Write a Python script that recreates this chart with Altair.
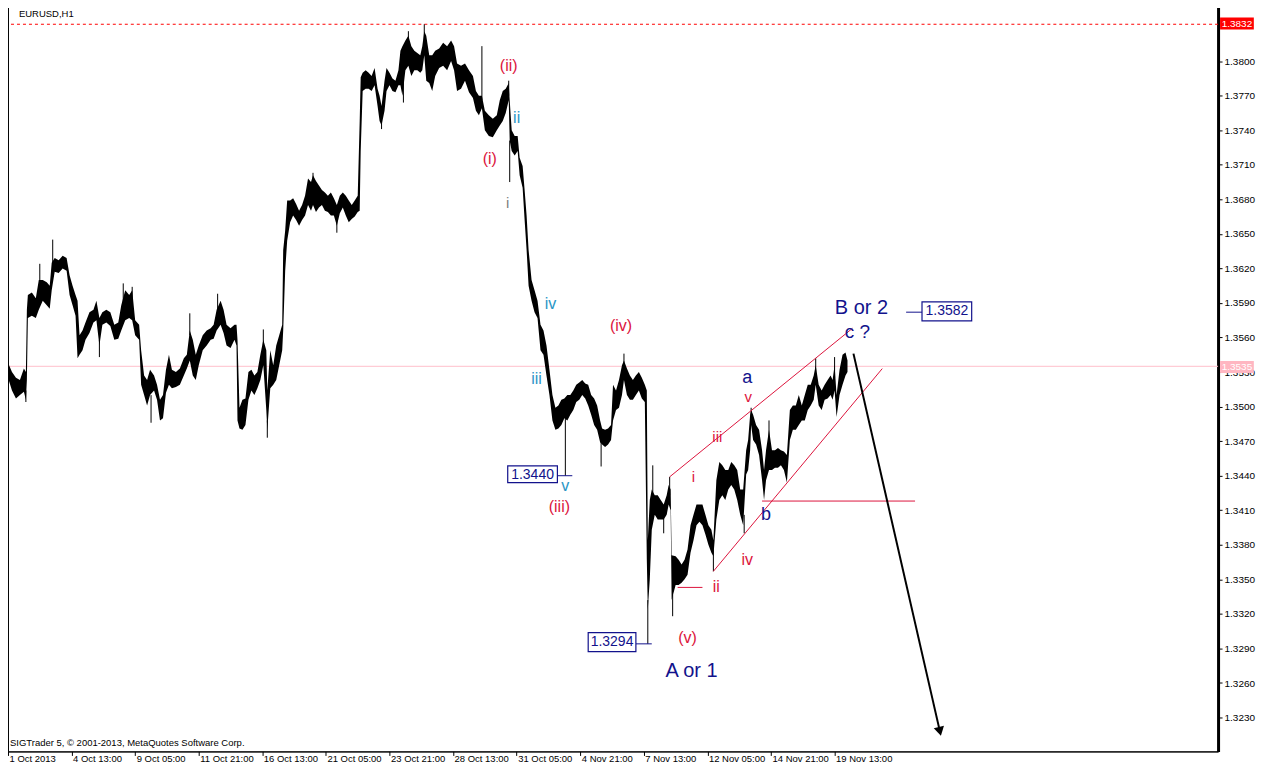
import altair as alt
import pandas as pd

# ---------------- price trace (EURUSD H1) ----------------
bar_index = [0, 4, 8, 12, 16, 18, 19, 20, 24, 28, 31, 35, 39, 42, 44, 47, 51, 55, 59, 62,
             65, 68, 70, 72, 75, 78, 82, 86, 89, 92, 95, 99, 103, 107, 111, 114, 118, 122, 125, 128,
             132, 134, 137, 140, 143, 147, 150, 153, 156, 159, 162, 165, 169, 173, 177, 180, 183, 186, 189, 192,
             196, 200, 204, 207, 210, 214, 217, 220, 224, 228, 230, 231, 233, 236, 239, 242, 245, 248, 251, 254,
             257, 260, 261, 264, 267, 270, 273, 276, 277, 279, 281, 284, 287, 290, 293, 296, 299, 302, 305, 307,
             310, 313, 316, 319, 322, 325, 328, 331, 334, 337, 340, 343, 346, 349, 352, 354, 355, 357, 360, 363,
             366, 369, 372, 374, 376, 379, 381, 384, 387, 390, 393, 395, 397, 400, 403, 406, 409, 412, 415, 417,
             419, 421, 424, 427, 430, 434, 438, 442, 446, 449, 452, 456, 460, 464, 468, 471, 474, 477, 480, 484,
             488, 492, 495, 498, 501, 504, 505, 507, 510, 513, 515, 518, 520, 522, 524, 527, 530, 533, 536, 539,
             542, 545, 548, 551, 554, 557, 560, 563, 566, 569, 572, 575, 578, 581, 584, 587, 590, 593, 596, 598,
             601, 604, 607, 609, 612, 615, 618, 620, 623, 626, 629, 632, 635, 638, 641, 643, 644, 646, 648, 651,
             654, 657, 660, 663, 665, 667, 668, 672, 675, 678, 681, 684, 687, 690, 693, 696, 699, 702, 705, 708,
             710, 713, 716, 719, 722, 725, 728, 731, 734, 737, 740, 743, 745, 747, 748, 750, 753, 756, 759, 761,
             763, 766, 769, 772, 775, 778, 781, 784, 787, 790, 793, 796, 799, 802, 805, 808, 811, 813, 816, 819,
             822, 825, 828, 830, 832, 834, 837, 840, 843, 845]
bar_high = [1.3538, 1.3530, 1.3525, 1.3523, 1.3533, 1.3530, 1.3584, 1.3597, 1.3599, 1.3594, 1.3610, 1.3610, 1.3608, 1.3605, 1.3625, 1.3629, 1.3627, 1.3631, 1.3629, 1.3614,
            1.3605, 1.3597, 1.3592, 1.3562, 1.3566, 1.3573, 1.3582, 1.3584, 1.3592, 1.3577, 1.3582, 1.3584, 1.3582, 1.3571, 1.3573, 1.3588, 1.3601, 1.3597, 1.3601, 1.3575,
            1.3571, 1.3549, 1.3527, 1.3523, 1.3532, 1.3527, 1.3519, 1.3506, 1.3510, 1.3532, 1.3545, 1.3532, 1.3530, 1.3533, 1.3542, 1.3545, 1.3566, 1.3558, 1.3545, 1.3553,
            1.3562, 1.3566, 1.3568, 1.3571, 1.3584, 1.3592, 1.3584, 1.3571, 1.3568, 1.3571, 1.3571, 1.3558, 1.3499, 1.3506, 1.3507, 1.3530, 1.3532, 1.3527, 1.3530, 1.3545,
            1.3558, 1.3549, 1.3514, 1.3549, 1.3536, 1.3553, 1.3562, 1.3571, 1.3636, 1.3653, 1.3679, 1.3679, 1.3681, 1.3676, 1.3670, 1.3675, 1.3683, 1.3698, 1.3695, 1.3701,
            1.3696, 1.3692, 1.3688, 1.3686, 1.3683, 1.3686, 1.3681, 1.3675, 1.3683, 1.3686, 1.3683, 1.3679, 1.3675, 1.3679, 1.3683, 1.3748, 1.3786, 1.3790, 1.3792, 1.3790,
            1.3787, 1.3794, 1.3776, 1.3770, 1.3761, 1.3783, 1.3794, 1.3790, 1.3785, 1.3783, 1.3792, 1.3809, 1.3813, 1.3818, 1.3822, 1.3813, 1.3809, 1.3807, 1.3805, 1.3813,
            1.3826, 1.3822, 1.3805, 1.3805, 1.3809, 1.3811, 1.3816, 1.3813, 1.3818, 1.3813, 1.3798, 1.3796, 1.3798, 1.3792, 1.3787, 1.3774, 1.3770, 1.3770, 1.3757, 1.3753,
            1.3750, 1.3753, 1.3766, 1.3774, 1.3776, 1.3781, 1.3766, 1.3740, 1.3735, 1.3735, 1.3716, 1.3709, 1.3688, 1.3666, 1.3636, 1.3610, 1.3601, 1.3592, 1.3571, 1.3566,
            1.3553, 1.3532, 1.3510, 1.3499, 1.3501, 1.3506, 1.3507, 1.3510, 1.3510, 1.3514, 1.3519, 1.3521, 1.3523, 1.3520, 1.3519, 1.3510, 1.3507, 1.3501, 1.3488, 1.3481,
            1.3480, 1.3481, 1.3484, 1.3519, 1.3514, 1.3523, 1.3536, 1.3540, 1.3533, 1.3527, 1.3523, 1.3527, 1.3530, 1.3525, 1.3519, 1.3514, 1.3384, 1.3419, 1.3428, 1.3423,
            1.3423, 1.3419, 1.3415, 1.3423, 1.3432, 1.3428, 1.3371, 1.3370, 1.3367, 1.3363, 1.3367, 1.3376, 1.3397, 1.3406, 1.3415, 1.3415, 1.3415, 1.3406, 1.3397, 1.3393,
            1.3384, 1.3436, 1.3452, 1.3449, 1.3445, 1.3445, 1.3452, 1.3449, 1.3445, 1.3428, 1.3428, 1.3462, 1.3471, 1.3493, 1.3497, 1.3493, 1.3484, 1.3480, 1.3462, 1.3445,
            1.3462, 1.3480, 1.3462, 1.3462, 1.3464, 1.3462, 1.3461, 1.3458, 1.3497, 1.3501, 1.3501, 1.3510, 1.3501, 1.3510, 1.3519, 1.3519, 1.3527, 1.3536, 1.3519, 1.3514,
            1.3519, 1.3523, 1.3527, 1.3523, 1.3536, 1.3510, 1.3532, 1.3545, 1.3547, 1.3540]
bar_low = [1.3525, 1.3514, 1.3507, 1.3510, 1.3513, 1.3506, 1.3523, 1.3577, 1.3579, 1.3577, 1.3584, 1.3592, 1.3588, 1.3585, 1.3601, 1.3617, 1.3616, 1.3620, 1.3618, 1.3597,
           1.3588, 1.3579, 1.3542, 1.3545, 1.3549, 1.3558, 1.3564, 1.3573, 1.3575, 1.3553, 1.3571, 1.3573, 1.3570, 1.3558, 1.3559, 1.3566, 1.3575, 1.3577, 1.3575, 1.3562,
           1.3558, 1.3519, 1.3510, 1.3501, 1.3510, 1.3514, 1.3506, 1.3488, 1.3490, 1.3512, 1.3519, 1.3516, 1.3517, 1.3519, 1.3527, 1.3533, 1.3540, 1.3527, 1.3523, 1.3536,
           1.3549, 1.3553, 1.3558, 1.3559, 1.3566, 1.3571, 1.3564, 1.3553, 1.3551, 1.3558, 1.3553, 1.3488, 1.3481, 1.3480, 1.3484, 1.3506, 1.3514, 1.3510, 1.3516, 1.3523,
           1.3536, 1.3497, 1.3480, 1.3516, 1.3519, 1.3523, 1.3536, 1.3549, 1.3566, 1.3618, 1.3644, 1.3660, 1.3666, 1.3662, 1.3657, 1.3662, 1.3666, 1.3675, 1.3670, 1.3675,
           1.3669, 1.3673, 1.3675, 1.3670, 1.3669, 1.3666, 1.3666, 1.3657, 1.3668, 1.3673, 1.3666, 1.3660, 1.3663, 1.3665, 1.3669, 1.3670, 1.3722, 1.3774, 1.3776, 1.3776,
           1.3774, 1.3779, 1.3761, 1.3748, 1.3744, 1.3757, 1.3774, 1.3779, 1.3774, 1.3773, 1.3779, 1.3779, 1.3770, 1.3792, 1.3796, 1.3787, 1.3792, 1.3792, 1.3790, 1.3792,
           1.3805, 1.3783, 1.3781, 1.3774, 1.3787, 1.3794, 1.3796, 1.3792, 1.3800, 1.3792, 1.3774, 1.3776, 1.3783, 1.3773, 1.3768, 1.3757, 1.3753, 1.3759, 1.3740, 1.3735,
           1.3734, 1.3740, 1.3744, 1.3748, 1.3755, 1.3766, 1.3731, 1.3722, 1.3718, 1.3722, 1.3701, 1.3690, 1.3662, 1.3636, 1.3605, 1.3592, 1.3582, 1.3577, 1.3549, 1.3545,
           1.3527, 1.3510, 1.3488, 1.3480, 1.3481, 1.3484, 1.3490, 1.3488, 1.3493, 1.3497, 1.3504, 1.3506, 1.3510, 1.3507, 1.3501, 1.3493, 1.3484, 1.3480, 1.3469, 1.3467,
           1.3465, 1.3467, 1.3471, 1.3488, 1.3497, 1.3499, 1.3510, 1.3523, 1.3510, 1.3506, 1.3506, 1.3510, 1.3514, 1.3507, 1.3504, 1.3367, 1.3324, 1.3350, 1.3393, 1.3406,
           1.3402, 1.3402, 1.3402, 1.3406, 1.3415, 1.3410, 1.3332, 1.3345, 1.3345, 1.3347, 1.3350, 1.3354, 1.3373, 1.3384, 1.3397, 1.3400, 1.3397, 1.3389, 1.3380, 1.3373,
           1.3370, 1.3402, 1.3419, 1.3423, 1.3419, 1.3428, 1.3432, 1.3428, 1.3419, 1.3406, 1.3397, 1.3441, 1.3445, 1.3462, 1.3484, 1.3471, 1.3467, 1.3458, 1.3436, 1.3419,
           1.3436, 1.3445, 1.3445, 1.3447, 1.3447, 1.3449, 1.3445, 1.3434, 1.3471, 1.3480, 1.3480, 1.3484, 1.3488, 1.3488, 1.3497, 1.3501, 1.3506, 1.3519, 1.3501, 1.3497,
           1.3506, 1.3507, 1.3510, 1.3506, 1.3514, 1.3491, 1.3510, 1.3519, 1.3527, 1.3530]

# single-bar wicks that stick out of the band
spike_index = [18, 32, 45, 92, 116, 125, 144, 183, 211, 257, 261, 307, 331, 376, 398, 403, 419,
               477, 504, 505, 561, 597, 620, 644, 649, 660, 666, 669, 710, 741, 748, 766, 813, 832]
spike_tip = [1.3504, 1.3624, 1.3645, 1.3543, 1.3607, 1.3604, 1.3486, 1.3581, 1.3598, 1.3567, 1.3473, 1.3703, 1.3651, 1.3741, 1.3764, 1.3826, 1.3832,
             1.3813, 1.3783, 1.3695, 1.3440, 1.3448, 1.3546, 1.3294, 1.3449, 1.3390, 1.3439, 1.3318, 1.3357, 1.3390, 1.3499, 1.3488, 1.3542, 1.3543]
spike_base = [1.3514, 1.3605, 1.3625, 1.3558, 1.3588, 1.3592, 1.3510, 1.3562, 1.3582, 1.3553, 1.3488, 1.3692, 1.3666, 1.3757, 1.3783, 1.3813, 1.3818,
              1.3766, 1.3770, 1.3731, 1.3490, 1.3471, 1.3532, 1.3332, 1.3423, 1.3403, 1.3423, 1.3337, 1.3376, 1.3406, 1.3488, 1.3471, 1.3525, 1.3525]

# ---------------- axes ----------------
x_tick_index = [0, 64, 128, 192, 256, 320, 384, 448, 512, 576, 640, 704, 768, 832]
x_tick_labels = ["1 Oct 2013", "4 Oct 13:00", "9 Oct 05:00", "11 Oct 21:00", "16 Oct 13:00",
                 "21 Oct 05:00", "23 Oct 21:00", "28 Oct 13:00", "31 Oct 05:00", "4 Nov 21:00",
                 "7 Nov 13:00", "12 Nov 05:00", "14 Nov 21:00", "19 Nov 13:00"]
y_tick_values = [1.3230, 1.3260, 1.3290, 1.3320, 1.3350, 1.3380, 1.3410, 1.3440, 1.3470, 1.3500,
                 1.3530, 1.3560, 1.3590, 1.3620, 1.3650, 1.3680, 1.3710, 1.3740, 1.3770, 1.3800]

# ---------------- reference levels ----------------
current_price = [1.3535]
high_price = [1.3832]

# ---------------- wave labels ----------------
wave_text = ["(ii)", "ii", "(i)", "i", "iv", "(iv)", "iii", "v", "(iii)", "i", "iii", "v",
             "a", "b", "iv", "ii", "(v)", "A or 1", "B or 2", "c ?"]
wave_index = [504, 512, 485, 503, 546, 617, 532, 561, 555, 690, 714, 745,
              744, 763, 744, 713, 684, 688, 859, 855]
wave_price = [1.3796, 1.3751, 1.3715, 1.3677, 1.3589, 1.3570, 1.3524, 1.3431, 1.3413, 1.3439, 1.3474, 1.3508,
              1.3525, 1.3406, 1.3367, 1.3343, 1.3299, 1.3270, 1.3586, 1.3565]
CRIMSON, TEAL, NAVY, GREY = "#dc143c", "#2a96c6", "#12128c", "#808080"
wave_color = [CRIMSON, TEAL, CRIMSON, GREY, TEAL, CRIMSON, TEAL, TEAL, CRIMSON, CRIMSON, CRIMSON, CRIMSON,
              NAVY, NAVY, CRIMSON, CRIMSON, CRIMSON, NAVY, NAVY, NAVY]
wave_size = [16, 16, 16, 15, 16, 16, 16, 16, 16, 15, 15, 15,
             18, 18, 16, 16, 16, 20, 20, 19]

# ---------------- line segments (channel, levels, arrow) ----------------
seg_x1 = [666, 710, 674, 759, 553, 632, 904, 851]
seg_y1 = [1.3439, 1.3357, 1.3343, 1.3418, 1.3440, 1.3294, 1.3582, 1.3546]
seg_x2 = [850, 880, 699, 913, 568, 648, 920, 938]
seg_y2 = [1.3568, 1.3533, 1.3343, 1.3418, 1.3440, 1.3294, 1.3582, 1.3218]
seg_color = [CRIMSON, CRIMSON, CRIMSON, CRIMSON, NAVY, NAVY, NAVY, "black"]
seg_width = [1, 1, 1, 1, 1, 1, 1, 2]

arrow_index = [938]
arrow_price = [1.3218]

# ---------------- boxed price labels ----------------
box_text = ["1.3440", "1.3294", "1.3582"]
box_x1 = [503, 584, 920]
box_x2 = [553, 632, 970]
box_lo = [1.3434, 1.32873, 1.35745]
box_hi = [1.34485, 1.33037, 1.3591]
box_tx = [528, 608, 945]
box_ty = [1.3441, 1.32955, 1.35828]

# ---------------- price tags on the price scale ----------------
tag_text = ["1.3832", "1.3535"]
tag_fill = ["#ff0000", "#ffb6c1"]
tag_x1 = [1220, 1220]
tag_x2 = [1254, 1254]
tag_lo = [1.38274, 1.35292]
tag_hi = [1.38378, 1.35396]
tag_tx = [1237, 1237]
tag_ty = [1.38326, 1.35344]

# ---------------- corner captions ----------------
caption_text = ["EURUSD,H1", "SIGTrader 5, \u00a9 2001-2013, MetaQuotes Software Corp."]
caption_x = [9, 0]
caption_y = [1.38413, 1.32075]

FONT = "Liberation Sans"
xs = alt.Scale(domain=[0, 1218], nice=False, zero=False)
ys = alt.Scale(domain=[1.32006, 1.38508], nice=False, zero=False)

label_expr = " : ".join(f"datum.value === {v} ? '{t}'" for v, t in zip(x_tick_index, x_tick_labels)) + " : ''"
x_axis = alt.Axis(values=x_tick_index, labelExpr=label_expr, labelAlign="left", labelOffset=1,
                  labelBaseline="top", tickSize=4, labelPadding=-2, labelFont=FONT, labelFontSize=9.5,
                  labelColor="black", tickColor="black", domainColor="black", grid=False, title=None,
                  labelOverlap=False, labelFlush=False, labelBound=False)
y_axis = alt.Axis(orient="right", values=y_tick_values, format=".4f", tickSize=4, labelPadding=2,
                  labelFont=FONT, labelFontSize=10, labelColor="black", tickColor="black",
                  domainColor="black", domainWidth=3, grid=False, title=None,
                  labelOverlap=False, labelFlush=False, labelBound=False)


def X(f):
    return alt.X(f, type="quantitative", scale=xs, axis=x_axis)


def Y(f):
    return alt.Y(f, type="quantitative", scale=ys, axis=y_axis)


bars = pd.DataFrame({"i": bar_index, "hi": bar_high, "lo": bar_low})
spikes = pd.DataFrame({"i": spike_index, "tip": spike_tip, "base": spike_base})
waves = pd.DataFrame({"i": wave_index, "p": wave_price, "t": wave_text, "c": wave_color, "s": wave_size})
segs = pd.DataFrame({"x1": seg_x1, "y1": seg_y1, "x2": seg_x2, "y2": seg_y2, "c": seg_color, "w": seg_width})
boxes = pd.DataFrame({"x1": box_x1, "x2": box_x2, "lo": box_lo, "hi": box_hi, "tx": box_tx, "ty": box_ty, "t": box_text})
tags = pd.DataFrame({"x1": tag_x1, "x2": tag_x2, "lo": tag_lo, "hi": tag_hi, "tx": tag_tx, "ty": tag_ty,
                     "t": tag_text, "f": tag_fill})
caps = pd.DataFrame({"i": caption_x, "p": caption_y, "t": caption_text})

cur_line = alt.Chart(pd.DataFrame({"p": current_price})).mark_rule(color="#ffc0cb", strokeWidth=1).encode(y=Y("p"))
high_line = alt.Chart(pd.DataFrame({"p": high_price})).mark_rule(color="#ff0000", strokeWidth=1, strokeDash=[3, 3]).encode(y=Y("p"))

band = alt.Chart(bars).mark_area(fill="black", interpolate="linear").encode(
    x=X("i"), y=Y("hi"), y2="lo")
wicks = alt.Chart(spikes).mark_rule(color="black", strokeWidth=1).encode(x=X("i"), y=Y("tip"), y2="base")

lines = alt.Chart(segs).mark_rule().encode(
    x=X("x1"), y=Y("y1"), x2="x2", y2="y2",
    color=alt.Color("c:N", scale=None), strokeWidth=alt.StrokeWidth("w:Q", scale=None))
head = alt.Chart(pd.DataFrame({"i": arrow_index, "p": arrow_price})).mark_point(
    shape="triangle-down", filled=True, color="black", size=110, angle=347, opacity=1).encode(x=X("i"), y=Y("p"))

box_rect = alt.Chart(boxes).mark_rect(fill="white", stroke=NAVY, strokeWidth=1.2).encode(
    x=X("x1"), x2="x2", y=Y("lo"), y2="hi")
box_txt = alt.Chart(boxes).mark_text(font=FONT, fontSize=14, color=NAVY).encode(x=X("tx"), y=Y("ty"), text="t:N")

tag_rect = alt.Chart(tags).mark_rect().encode(
    x=X("x1"), x2="x2", y=Y("lo"), y2="hi", color=alt.Color("f:N", scale=None))
tag_txt = alt.Chart(tags).mark_text(font=FONT, fontSize=10, color="white").encode(x=X("tx"), y=Y("ty"), text="t:N")

wave_txt = alt.Chart(waves).mark_text(font=FONT).encode(
    x=X("i"), y=Y("p"), text="t:N", color=alt.Color("c:N", scale=None), size=alt.Size("s:Q", scale=None))

cap_txt = alt.Chart(caps).mark_text(font=FONT, fontSize=9.5, color="black", align="left", dx=2).encode(
    x=X("i"), y=Y("p"), text="t:N")

chart = alt.layer(
    cur_line, high_line, band, wicks, lines, head, box_rect, box_txt, tag_rect, tag_txt, wave_txt, cap_txt
).properties(
    width=1212, height=750,
    autosize=alt.AutoSizeParams(type="none"),
    padding={"left": 0, "top": -6, "right": 42, "bottom": 12},
    background="white",
).configure_view(stroke="black", strokeWidth=1)

chart.save("out.html", embed_options={"renderer": "svg", "actions": False})
